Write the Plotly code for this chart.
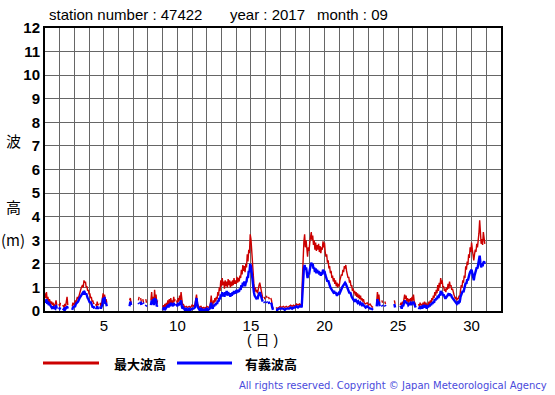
import plotly.graph_objects as go

# ---- data (day of month as fractional day, max wave height, significant wave height) ----
times = [
 1.00,1.05,1.10,1.15,1.20,1.25,1.30,1.40,1.45,1.50,1.55,1.60,1.70,1.75,1.80,1.85,1.95,2.00,2.05,2.10,
 2.20,2.30,2.35,2.40,2.50,2.55,2.60,2.85,2.90,3.00,3.05,3.10,3.20,3.25,3.35,3.45,3.55,3.60,3.65,3.70,
 3.75,3.80,3.85,3.90,3.95,4.00,4.05,4.10,4.15,4.20,4.25,4.30,4.35,4.40,4.45,4.50,4.55,4.60,4.65,4.70,
 4.75,4.80,4.85,4.90,4.95,5.00,5.05,5.10,5.15,5.20,5.25,
 6.75,6.80,6.85,6.90,7.35,7.40,7.45,7.50,7.55,7.60,7.65,7.70,7.75,7.85,7.90,7.95,
 8.20,8.25,8.30,8.35,8.40,8.45,8.50,8.55,8.60,8.65,8.70,
 9.00,9.05,9.10,9.15,9.20,9.25,9.30,9.35,9.40,9.45,9.50,9.55,9.60,9.65,9.70,9.75,9.80,9.85,9.90,9.95,
 10.00,10.05,10.10,10.15,10.20,10.25,10.30,10.35,10.40,10.50,10.60,10.70,10.80,10.90,11.00,11.10,11.20,11.25,11.30,11.35,
 11.40,11.50,11.60,11.70,11.80,11.90,12.00,12.10,12.20,12.25,12.30,12.35,12.40,12.45,12.50,12.55,12.60,12.65,12.70,12.75,
 12.80,12.85,12.90,12.95,13.00,13.05,13.10,13.15,13.20,13.25,13.30,13.35,13.40,13.45,13.50,13.55,13.60,13.65,13.70,13.75,
 13.80,13.85,13.90,13.95,14.00,14.05,14.10,14.15,14.20,14.25,14.30,14.35,14.40,14.45,14.50,14.55,14.60,14.65,14.70,14.75,
 14.80,14.85,14.90,14.95,15.00,15.05,15.10,15.15,15.20,15.25,15.30,15.35,15.40,15.45,15.50,15.55,15.60,15.65,15.70,15.75,
 15.80,15.85,15.90,15.95,16.00,16.05,16.10,16.15,16.20,16.25,16.30,16.35,16.40,16.45,16.50,16.55,
 16.70,16.80,16.90,17.00,17.10,17.20,17.30,17.40,17.50,17.60,17.70,17.80,17.90,18.00,18.10,18.20,18.30,18.40,18.45,
 18.50,18.55,18.60,18.65,18.70,18.75,18.80,18.85,18.90,18.95,19.00,19.05,19.10,19.15,19.20,19.25,19.30,19.35,19.40,19.45,
 19.50,19.55,19.60,19.65,19.70,19.75,19.80,19.85,19.90,19.95,20.00,20.05,20.10,20.15,20.20,20.25,20.30,20.35,20.40,20.45,
 20.50,20.55,20.60,20.65,20.70,20.75,20.80,20.85,20.90,20.95,21.00,21.05,21.10,21.15,21.20,21.25,21.30,21.35,21.40,21.45,
 21.50,21.55,21.60,21.65,21.70,21.75,21.80,21.85,21.90,21.95,22.00,22.05,22.10,22.15,22.20,22.25,22.30,22.35,22.40,22.45,
 22.50,22.55,22.60,22.65,22.70,22.80,22.90,23.00,23.10,23.20,23.30,23.40,
 23.55,23.60,23.65,23.70,23.75,23.80,23.90,23.95,24.00,24.10,24.15,24.20,24.75,24.80,24.85,
 25.15,25.20,25.25,25.30,25.35,25.40,25.45,25.50,25.55,25.60,25.65,25.70,25.75,25.80,25.85,25.90,25.95,26.00,26.05,26.10,
 26.15,26.20,26.25,26.40,26.45,26.50,26.55,26.60,26.65,26.70,26.75,26.80,26.85,26.90,26.95,27.00,27.05,27.10,27.15,27.20,
 27.25,27.30,27.35,27.40,27.45,27.50,27.55,27.60,27.65,27.70,27.75,27.80,27.85,27.90,27.95,28.00,28.05,28.10,28.15,28.20,
 28.25,28.30,28.35,28.40,28.45,28.50,28.55,28.60,28.65,28.70,28.75,28.80,28.85,28.90,28.95,29.00,29.05,29.10,29.15,29.20,
 29.25,29.30,29.35,29.40,29.45,29.50,29.55,29.60,29.65,29.70,29.75,29.80,29.85,29.90,29.95,30.00,30.05,30.10,30.15,30.20,
 30.25,30.30,30.35,30.40,30.45,30.50,30.55,30.60,30.65,30.70,30.75,30.80,30.85,30.90,
]
max_wave = [
 0.75,0.55,0.80,0.45,0.60,0.35,0.50,0.30,0.40,0.25,0.35,0.20,0.30,0.45,0.25,None,0.30,0.20,0.35,None,
 0.25,0.15,0.30,0.20,0.60,0.25,None,0.20,0.35,0.25,0.45,0.35,0.60,0.50,0.80,0.95,1.10,1.00,1.30,1.20,
 1.25,1.00,1.05,0.85,0.90,0.70,0.75,0.55,0.60,0.40,0.45,0.30,0.35,None,0.30,0.20,0.40,0.25,0.30,None,
 0.35,0.20,0.30,0.45,0.75,0.55,0.70,0.40,0.50,0.35,None,
 0.45,0.55,0.35,None,0.45,0.60,None,0.55,0.40,None,0.50,0.35,None,0.50,0.35,None,
 0.45,0.80,0.40,0.60,0.35,0.90,0.50,0.70,0.30,0.45,None,
 0.15,0.25,0.10,0.30,0.15,0.35,0.20,0.45,0.25,0.50,0.30,0.55,0.35,0.45,0.30,0.60,0.40,0.50,None,0.45,
 0.30,0.55,0.40,0.65,0.45,0.80,0.35,0.25,0.30,0.15,0.20,0.15,0.20,0.15,0.25,0.20,0.30,0.45,0.70,0.40,
 0.25,0.15,0.20,0.10,0.15,0.10,0.20,0.15,0.20,0.35,0.65,0.30,0.20,0.45,0.35,0.55,0.40,0.60,0.50,0.80,
 0.65,1.00,0.85,1.30,1.05,1.40,1.10,1.25,0.95,1.30,1.05,1.25,1.00,1.35,1.10,1.30,1.00,1.25,1.05,1.30,
 1.10,1.40,1.15,1.30,1.15,1.45,1.20,1.40,1.25,1.50,1.40,1.75,1.55,1.95,1.70,1.90,1.65,2.00,1.85,2.40,
 2.10,2.60,2.45,3.25,3.05,2.60,2.00,1.40,1.15,0.85,1.00,0.80,0.90,0.75,1.00,1.10,1.20,1.00,0.85,0.70,
 0.55,None,0.60,0.50,None,0.65,0.55,None,0.60,0.50,None,0.55,0.45,0.20,0.10,None,
 0.15,0.10,0.15,0.20,0.15,0.20,0.15,0.20,0.15,0.20,0.25,0.20,0.25,0.20,0.30,0.25,0.30,0.25,0.30,
 1.40,2.50,2.95,3.25,2.70,3.00,2.50,2.30,2.70,2.55,2.90,3.10,3.35,3.00,3.20,2.80,3.00,2.60,2.90,2.55,
 2.80,2.60,2.85,2.50,2.75,2.45,2.70,2.60,2.95,2.70,2.90,2.50,2.30,2.40,2.05,2.15,1.80,1.90,1.60,1.70,
 1.40,1.50,1.25,1.40,1.15,1.30,1.05,1.20,1.00,1.15,1.05,1.30,1.40,1.55,1.50,1.75,1.65,1.90,1.80,1.95,
 1.70,1.55,1.40,1.45,1.20,1.30,1.05,1.10,0.85,0.95,0.75,0.85,0.65,0.80,0.60,0.75,0.55,0.70,0.50,0.65,
 0.45,0.55,0.40,0.50,0.35,0.30,0.35,0.25,0.30,0.20,0.15,None,
 0.40,0.80,0.45,0.70,0.35,None,0.45,0.35,None,0.40,0.30,None,0.45,0.30,None,
 0.25,0.35,0.20,0.40,0.30,0.55,0.70,0.50,0.65,0.40,0.55,0.35,0.50,0.40,0.55,0.40,0.60,0.45,0.70,0.40,
 0.35,0.25,None,0.30,0.20,0.35,0.25,0.30,0.20,0.35,0.25,0.40,0.25,0.35,0.20,0.30,0.25,0.40,0.30,0.45,
 0.35,0.55,0.45,0.65,0.55,0.80,0.65,0.90,0.75,1.10,0.85,1.20,1.00,1.40,1.15,1.30,1.00,1.05,0.85,0.95,
 0.80,1.00,0.90,1.15,0.95,1.25,1.05,1.10,0.90,0.95,0.75,0.70,0.60,0.50,0.60,0.45,0.55,0.50,0.65,0.60,
 0.90,1.10,1.00,1.30,1.20,1.50,1.40,1.90,1.75,2.10,1.95,2.40,2.25,2.70,2.50,2.90,2.60,2.30,2.15,2.40,
 2.60,2.50,2.85,2.70,2.95,3.30,3.85,3.20,2.85,3.05,2.80,3.35,2.90,2.85,
]
sig_wave = [
 0.45,0.35,0.50,0.30,0.40,0.25,0.30,0.20,0.15,0.20,0.10,0.15,0.10,0.25,0.10,None,0.15,0.10,0.15,None,
 0.10,0.05,0.15,0.10,0.20,0.10,None,0.05,0.15,0.20,0.20,0.30,0.35,0.40,0.55,0.65,0.75,0.70,0.85,0.80,
 0.70,0.75,0.60,0.55,0.50,0.45,0.35,0.40,0.30,0.25,0.15,0.20,0.10,None,0.15,0.10,0.20,0.10,0.15,None,
 0.20,0.10,0.20,0.25,0.55,0.40,0.60,0.30,0.35,0.20,None,
 0.20,0.40,0.25,None,0.35,0.30,None,0.40,0.25,None,0.35,0.30,None,0.20,0.25,None,
 0.25,0.45,0.30,0.50,0.25,0.55,0.35,0.50,0.20,0.25,None,
 0.05,0.10,0.05,0.15,0.10,0.15,0.15,0.25,0.15,0.30,0.20,0.35,0.25,0.30,0.20,0.35,0.25,0.30,None,0.30,
 0.20,0.35,0.25,0.30,0.40,0.45,0.20,0.10,0.15,0.05,0.10,0.05,0.10,0.05,0.10,0.10,0.15,0.30,0.55,0.30,
 0.15,0.05,0.10,0.05,0.05,0.05,0.10,0.05,0.10,0.20,0.35,0.15,0.10,0.25,0.20,0.30,0.25,0.35,0.30,0.45,
 0.40,0.55,0.50,0.70,0.60,0.80,0.65,0.75,0.60,0.80,0.70,0.85,0.65,0.80,0.70,0.75,0.60,0.75,0.65,0.80,
 0.70,0.85,0.75,0.80,0.75,0.90,0.80,0.85,0.85,0.95,0.90,1.10,1.00,1.20,1.10,1.25,1.05,1.20,1.25,1.45,
 1.40,1.70,1.65,2.00,1.90,1.65,1.30,1.00,0.80,0.65,0.60,0.55,0.60,0.50,0.65,0.75,0.80,0.70,0.55,0.45,
 0.40,None,0.40,0.35,None,0.40,0.35,None,0.40,0.30,None,0.35,0.30,0.15,0.05,None,
 0.05,0.05,0.10,0.10,0.10,0.10,0.05,0.10,0.10,0.10,0.15,0.10,0.15,0.15,0.20,0.15,0.20,0.20,0.15,
 0.90,1.70,1.80,1.95,1.75,1.85,1.50,1.40,1.60,1.55,1.75,1.90,2.05,1.95,2.00,1.80,1.85,1.65,1.80,1.60,
 1.75,1.60,1.70,1.55,1.65,1.50,1.60,1.55,1.75,1.65,1.70,1.55,1.45,1.40,1.25,1.30,1.15,1.10,1.00,0.95,
 0.90,0.85,0.80,0.85,0.75,0.80,0.70,0.65,0.70,0.75,0.70,0.80,0.85,0.95,1.00,1.05,1.10,1.15,1.20,1.15,
 1.05,1.00,0.90,0.85,0.75,0.80,0.65,0.60,0.55,0.50,0.45,0.50,0.40,0.45,0.40,0.35,0.40,0.35,0.30,0.35,
 0.30,0.25,0.30,0.25,0.20,0.15,0.20,0.15,0.10,0.10,0.05,None,
 0.20,0.50,0.30,0.40,0.20,None,0.25,0.20,None,0.25,0.20,None,0.30,0.15,None,
 0.15,0.20,0.10,0.25,0.20,0.30,0.45,0.35,0.40,0.30,0.35,0.25,0.30,0.30,0.35,0.25,0.35,0.30,0.40,0.30,
 0.20,0.15,None,0.15,0.10,0.20,0.15,0.20,0.10,0.25,0.15,0.20,0.15,0.25,0.10,0.20,0.15,0.25,0.20,0.30,
 0.25,0.35,0.30,0.40,0.35,0.50,0.45,0.55,0.50,0.65,0.55,0.70,0.65,0.85,0.75,0.80,0.65,0.70,0.60,0.55,
 0.55,0.60,0.60,0.70,0.65,0.75,0.65,0.70,0.60,0.55,0.50,0.45,0.40,0.35,0.35,0.30,0.35,0.30,0.40,0.40,
 0.60,0.70,0.70,0.85,0.80,0.95,0.95,1.20,1.15,1.35,1.30,1.50,1.55,1.65,1.70,1.75,1.60,1.40,1.30,1.50,
 1.65,1.70,1.85,1.80,2.00,2.15,2.35,2.05,1.85,1.95,1.90,2.05,2.10,2.00,
]

y_ticks = list(range(0, 13))
x_grid = list(range(1, 33))
x_labels = {5: "5", 10: "10", 15: "15", 20: "20", 25: "25", 30: "30"}

title_parts = ["station number : 47422", "year : 2017", "month : 09"]
legend_names = ["最大波高", "有義波高"]
red = "#cc0000"
blue = "#0000ff"

W, H = 555, 395
L, R, T, B = 45, 501, 28, 311


def px(x):
    return (x - L) / (R - L)


def py(y):
    return (B - y) / (B - T)


fig = go.Figure()
fig.add_trace(go.Scatter(x=times, y=max_wave, mode="lines", line=dict(color=red, width=1.4),
                         connectgaps=False, showlegend=False, hoverinfo="skip"))
fig.add_trace(go.Scatter(x=times, y=sig_wave, mode="lines", line=dict(color=blue, width=2.4),
                         connectgaps=False, showlegend=False, hoverinfo="skip"))

font_main = "Liberation Sans, Arial, sans-serif"
cjk = "Noto Sans CJK JP, sans-serif"
mixed = "Liberation Sans, Noto Sans CJK JP, sans-serif"

fig.update_layout(
    width=W, height=H,
    margin=dict(l=L, r=W - R, t=T, b=H - B, pad=0),
    paper_bgcolor="white", plot_bgcolor="white",
    showlegend=False,
    xaxis=dict(range=[1, 32], tickvals=x_grid,
               ticktext=[x_labels.get(v, "") for v in x_grid],
               showgrid=True, gridcolor="#666666", gridwidth=1,
               showline=True, linecolor="black", linewidth=2, mirror=True,
               ticks="", zeroline=False,
               tickfont=dict(family=font_main, size=15, color="black")),
    yaxis=dict(range=[0, 12], tickvals=y_ticks,
               showgrid=True, gridcolor="#666666", gridwidth=1,
               showline=True, linecolor="black", linewidth=2, mirror=True,
               ticks="", zeroline=False,
               tickfont=dict(family=font_main, size=15, color="black", weight="bold")),
)

ann = []
for txt, x0 in zip(title_parts, [47, 228, 315]):
    ann.append(dict(text=txt, x=px(x0), y=py(15), xanchor="left", yanchor="middle",
                    font=dict(family=font_main, size=15, color="black")))
for txt, yy in [("波", 140), ("高", 206), ("(m)", 239)]:
    ann.append(dict(text=txt, x=px(13), y=py(yy), xanchor="center", yanchor="middle",
                    font=dict(family=cjk, size=15, color="black")))
ann.append(dict(text="( 日 )", x=px(262), y=py(340), xanchor="center", yanchor="middle",
                font=dict(family=mixed, size=14, color="black")))
ann.append(dict(text=legend_names[0], x=px(112), y=py(363), xanchor="left", yanchor="middle",
                font=dict(family=cjk, size=13, color="black", weight="bold")))
ann.append(dict(text=legend_names[1], x=px(243), y=py(363), xanchor="left", yanchor="middle",
                font=dict(family=cjk, size=13, color="black", weight="bold")))
ann.append(dict(text="All rights reserved. Copyright © Japan Meteorological Agency",
                x=px(549), y=py(385), xanchor="right", yanchor="middle",
                font=dict(family="DejaVu Sans, sans-serif", size=10, color="#4a4adc")))
for a in ann:
    a.update(xref="paper", yref="paper", showarrow=False)
fig.update_layout(annotations=ann)

fig.update_layout(shapes=[
    dict(type="line", xref="paper", yref="paper", x0=px(43), x1=px(99), y0=py(363), y1=py(363),
         line=dict(color=red, width=3)),
    dict(type="line", xref="paper", yref="paper", x0=px(177), x1=px(232), y0=py(363), y1=py(363),
         line=dict(color=blue, width=3)),
])

fig.write_html("out.html", config={"displayModeBar": False},
               post_script="document.body.style.margin='0';document.body.style.overflow='hidden';")
